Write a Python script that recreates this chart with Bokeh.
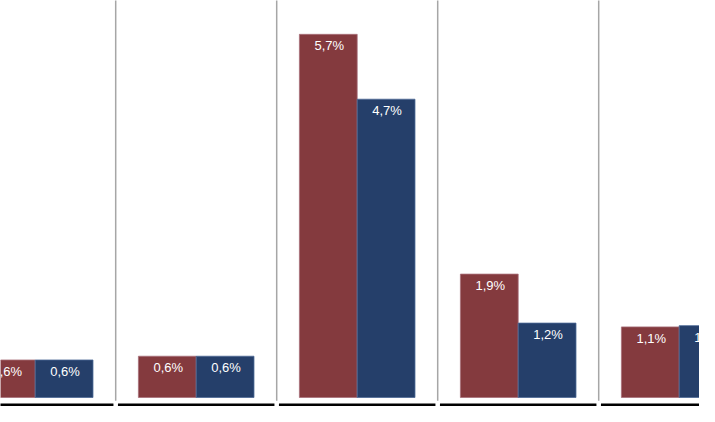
from bokeh.plotting import figure
from bokeh.models import ColumnDataSource, Range1d
from bokeh.core.properties import value
from bokeh.embed import file_html
from bokeh.resources import INLINE

# Data (percent)
categories = ["Grupo 1", "Grupo 2", "Grupo 3", "Grupo 4", "Grupo 5"]
series_a = [0.59, 0.649, 5.71, 1.94, 1.11]
series_b = [0.59, 0.649, 4.69, 1.17, 1.13]
labels_a = ["0,6%", "0,6%", "5,7%", "1,9%", "1,1%"]
labels_b = ["0,6%", "0,6%", "4,7%", "1,2%", "1,1%"]

RED = "#843A3E"
BLUE = "#253F6A"
BAR_W = 0.359

pos = list(range(len(categories)))

p = figure(width=699, height=406, output_backend="svg", toolbar_location=None,
           x_range=Range1d(-0.2155, 4.1261), y_range=Range1d(-0.1415, 6.242),
           min_border=0, min_border_left=0, min_border_right=0,
           min_border_top=0, min_border_bottom=0)
p.axis.visible = False
p.grid.visible = False
p.outline_line_color = None
p.background_fill_color = "white"
p.border_fill_color = "white"

src_a = ColumnDataSource(dict(x=[i - BAR_W / 2 for i in pos], top=series_a, lab=labels_a))
src_b = ColumnDataSource(dict(x=[i + BAR_W / 2 for i in pos], top=series_b, lab=labels_b))

# separators between groups
sep_x = [i + 0.5 for i in pos[:-1]]
p.segment(x0=sep_x, x1=sep_x, y0=[-0.05] * len(sep_x), y1=[7] * len(sep_x),
          line_color="#A6A6A6", line_width=1.5)

# black bottom bands per group
gap = 0.014
p.quad(left=[i - 0.5 + gap for i in pos], right=[i + 0.5 - gap for i in pos],
       bottom=[-0.3] * len(pos), top=[-0.094] * len(pos),
       fill_color="black", line_color=None)

p.vbar(x="x", top="top", bottom=0, width=BAR_W, source=src_a,
       fill_color=RED, line_color="#A8707A", line_width=0.8)
p.vbar(x="x", top="top", bottom=0, width=BAR_W, source=src_b,
       fill_color=BLUE, line_color="#4C6A96", line_width=0.8)

for src in (src_a, src_b):
    p.text(x="x", y="top", text="lab", source=src, text_color="white",
           text_font=value("Liberation Sans"), text_font_size="13px",
           text_align="center", text_baseline="top", x_offset=1, y_offset=4)

open("out.html", "w").write(file_html(p, INLINE))
